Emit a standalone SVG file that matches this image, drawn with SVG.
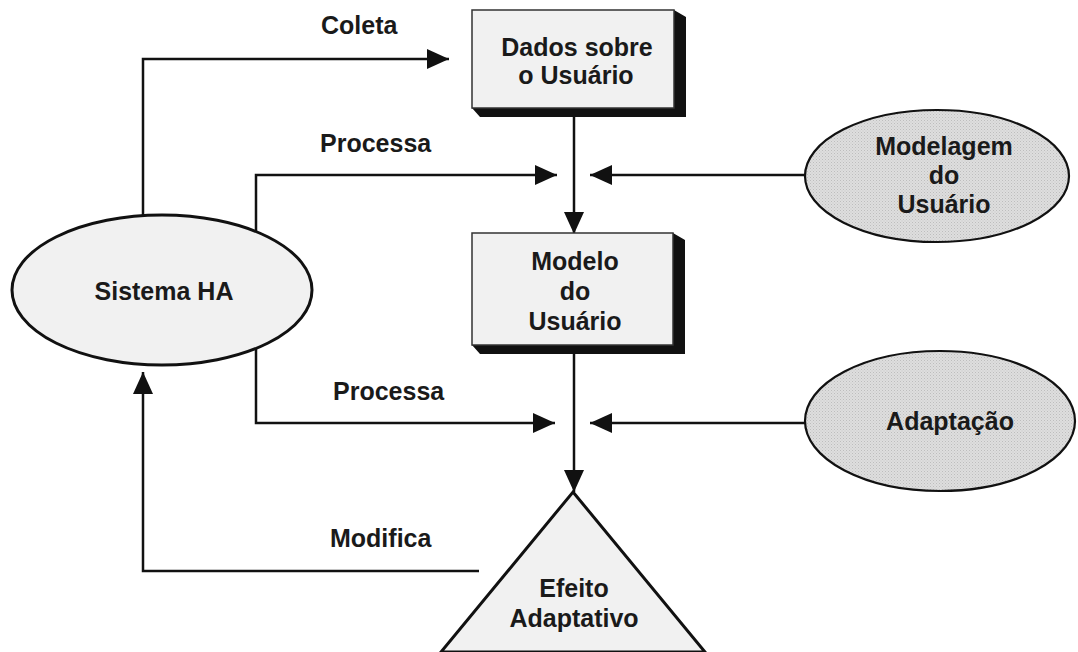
<svg xmlns="http://www.w3.org/2000/svg" width="1078" height="652" viewBox="0 0 1078 652">
  <defs>
    <style>
      text { font-family: "Liberation Sans", Arial, sans-serif; font-weight: bold; font-size: 25px; fill: #1a1a1a; }
      .mid { text-anchor: middle; }
      .wire { fill: none; stroke: #111; stroke-width: 2.5; }
      .arrow { marker-end: url(#head); }
      .box { fill: #f1f1f1; stroke: #333; stroke-width: 1.5; }
      .depth { fill: #111; }
      .soft { fill: #f1f1f1; stroke: #111; stroke-width: 3; }
      .dotted { fill: url(#stipple); stroke: #111; stroke-width: 2.2; }
    </style>
    <marker id="head" markerUnits="userSpaceOnUse" markerWidth="22" markerHeight="20" refX="22" refY="10" orient="auto">
      <path d="M0,0 L22,10 L0,20 Z" fill="#111"/>
    </marker>
    <pattern id="stipple" width="3" height="3" patternUnits="userSpaceOnUse">
      <rect width="3" height="3" fill="#dedede"/>
      <rect x="0" y="0" width="1" height="1" fill="#bdbdbd"/>
      <rect x="1.5" y="1.5" width="1" height="1" fill="#c8c8c8"/>
    </pattern>
  </defs>

  <rect width="1078" height="652" fill="#ffffff"/>

  <!-- connectors -->
  <g id="connectors">
    <!-- Coleta: Sistema HA up and over to the data box -->
    <path class="wire arrow" d="M143,216 L143,59 L449,59"/>
    <!-- first Processa -->
    <path class="wire arrow" d="M256,232 L256,175 L557,175"/>
    <!-- second Processa -->
    <path class="wire arrow" d="M256,349 L256,423 L555,423"/>
    <!-- Modelagem do Usuário feeds in from the right -->
    <path class="wire arrow" d="M805,175 L590,175"/>
    <!-- Adaptação feeds in from the right -->
    <path class="wire arrow" d="M806,423 L590,423"/>
    <!-- data -> model -->
    <path class="wire arrow" d="M574,117 L574,234"/>
    <!-- model -> adaptive effect -->
    <path class="wire arrow" d="M574,354 L574,492"/>
    <!-- Modifica: effect back to Sistema HA -->
    <path class="wire arrow" d="M479,571 L143,571 L143,372"/>

    <text x="321" y="34">Coleta</text>
    <text x="320" y="152">Processa</text>
    <text x="333" y="400">Processa</text>
    <text x="330" y="547">Modifica</text>
  </g>

  <!-- nodes -->
  <g id="dados-usuario">
    <path class="depth" d="M674,10 L686,17 L686,117 L480,117 L472,108 L674,108 Z"/>
    <rect class="box" x="472" y="10" width="202" height="98"/>
    <text class="mid" x="577" y="56">Dados sobre</text>
    <text class="mid" x="576" y="84">o Usuário</text>
  </g>

  <g id="modelo-usuario">
    <path class="depth" d="M673,233 L685,240 L685,354 L480,354 L472,345 L673,345 Z"/>
    <rect class="box" x="472" y="233" width="201" height="112"/>
    <text class="mid" x="575" y="270">Modelo</text>
    <text class="mid" x="575" y="300">do</text>
    <text class="mid" x="575" y="330">Usuário</text>
  </g>

  <g id="sistema-ha">
    <ellipse class="soft" cx="162" cy="290" rx="150" ry="75"/>
    <text class="mid" x="164" y="300">Sistema HA</text>
  </g>

  <g id="modelagem-usuario">
    <ellipse class="dotted" cx="937" cy="176" rx="132" ry="66"/>
    <text class="mid" x="944" y="155">Modelagem</text>
    <text class="mid" x="944" y="184">do</text>
    <text class="mid" x="944" y="213">Usuário</text>
  </g>

  <g id="adaptacao">
    <ellipse class="dotted" cx="940" cy="421" rx="135" ry="70"/>
    <text class="mid" x="950" y="430">Adaptação</text>
  </g>

  <g id="efeito-adaptativo">
    <path class="soft" d="M573,492 L705,652 L441,652 Z"/>
    <text class="mid" x="574" y="597">Efeito</text>
    <text class="mid" x="574" y="627">Adaptativo</text>
  </g>
</svg>
